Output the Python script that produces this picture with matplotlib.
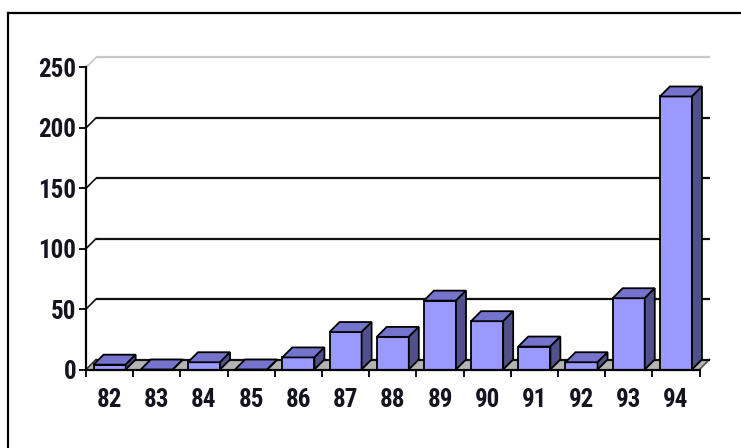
import matplotlib
matplotlib.use("Agg")
import matplotlib.pyplot as plt
from matplotlib.patches import Polygon
from matplotlib.lines import Line2D
from matplotlib import font_manager as fm
import numpy as np

# Data
years = ["82", "83", "84", "85", "86", "87", "88", "89", "90", "91", "92", "93", "94"]
counts = [4, 0, 6, 0, 10, 31, 27, 57, 40, 19, 6, 59, 226]
y_ticks = [0, 50, 100, 150, 200, 250]

FRONT = "#9999ff"
TOP = "#7474cc"
SIDE = "#50508a"
FLOOR = "#b4b4b4"
TXT = "#14141f"


def pick_narrow_font():
    """Return (FontProperties, name) for a condensed bold sans if one exists."""
    cands = []
    for f in fm.fontManager.ttflist:
        name = f.name
        narrow = ("Narrow" in name or "Condensed" in name
                  or f.stretch in ("condensed", "semi-condensed",
                                   "extra-condensed", "ultra-condensed")
                  or "Condensed" in f.fname or "Narrow" in f.fname)
        if not narrow:
            continue
        w = f.weight if isinstance(f.weight, int) else (700 if "bold" in str(f.weight) else 400)
        if w < 600:
            continue
        pref = 5
        for i, key in enumerate(["Liberation Sans Narrow", "Arial Narrow",
                                 "Roboto Condensed", "Roboto", "Noto Sans",
                                 "Open Sans", "DejaVu Sans"]):
            if key in name:
                pref = i
                break
        italic = f.style != "normal"
        cands.append((italic, pref, abs(w - 700), f.fname, name))
    if not cands:
        return None, None
    cands.sort()
    return fm.FontProperties(fname=cands[0][3]), cands[0][4]


fp, fp_name = pick_narrow_font()

W, H = 741, 448
fig = plt.figure(figsize=(W / 100, H / 100), dpi=100)
fig.patch.set_facecolor("white")

# front plane of the chart in pixels
left_px, right_px, top_px, bot_px = 86, 699.5, 67.5, 369.5
ax = fig.add_axes([left_px / W, 1 - bot_px / H,
                   (right_px - left_px) / W, (bot_px - top_px) / H])
ax.set_facecolor("none")
n = len(years)
x = np.arange(n)
ax.set_xlim(-0.5, n - 0.5)
ax.set_ylim(0, 250)

# depth of the pseudo-3D extrusion (10 px right and up) in data units
depth_px = 10
dx = depth_px / ((right_px - left_px) / n)
dy = depth_px / ((bot_px - top_px) / 250)

x0, x1 = -0.5, n - 0.5

# floor
ax.add_patch(Polygon([(x0, 0), (x1, 0), (x1 + dx, dy), (x0 + dx, dy)],
                     closed=True, facecolor=FLOOR, edgecolor="none",
                     clip_on=False, zorder=1))
ax.plot([x1, x1 + dx], [0, dy], color="#555555", lw=1.2, clip_on=False, zorder=1)

# back-wall gridlines with slanted connectors to the value axis
for v in y_ticks:
    col = "#c8c8c8" if v == 250 else "#111111"
    ax.plot([x0 + dx, x1 + dx], [v + dy, v + dy], color=col, lw=1.6,
            clip_on=False, zorder=1.5, solid_capstyle="butt")
    ax.plot([x0, x0 + dx], [v, v + dy], color=col if v else "#333333",
            lw=1.2, clip_on=False, zorder=1.5)

# bars: front face, top face, side face
bw = 0.68
for xi, v in zip(x, counts):
    l, r = xi - bw / 2, xi + bw / 2
    if v > 0:
        ax.bar(xi, v, width=bw, color=FRONT, edgecolor="black", linewidth=1.3,
               zorder=3)
    ax.add_patch(Polygon([(l, v), (r, v), (r + dx, v + dy), (l + dx, v + dy)],
                         closed=True, facecolor=TOP, edgecolor="black",
                         linewidth=1.3, clip_on=False, zorder=3))
    ax.add_patch(Polygon([(r, 0), (r + dx, dy), (r + dx, v + dy), (r, v)],
                         closed=True, facecolor=SIDE, edgecolor="black",
                         linewidth=1.3, clip_on=False, zorder=3))

# axes lines and ticks
for s in ("top", "right"):
    ax.spines[s].set_visible(False)
for s in ("left", "bottom"):
    ax.spines[s].set_linewidth(1.6)
    ax.spines[s].set_color("black")
    ax.spines[s].set_zorder(4)

if fp is not None:
    fp.set_size(18)
    font = dict(fontproperties=fp, color=TXT)
else:
    font = dict(family=["Liberation Sans", "DejaVu Sans"], weight="bold",
                size=15, color=TXT)

ax.set_yticks(y_ticks)
ax.set_yticklabels([str(v) for v in y_ticks], **font)
ax.tick_params(axis="y", direction="out", length=5, width=1.3, pad=2,
               colors="black")
for t in ax.get_yticklabels():
    t.set_color(TXT)

ax.set_xticks(x)
ax.set_xticklabels(years, **font)
ax.set_xticks(np.arange(n + 1) - 0.5, minor=True)
ax.tick_params(axis="x", which="major", length=0, pad=13)
ax.tick_params(axis="x", which="minor", direction="out", length=5, width=1.3,
               colors="black")

# outer frame (left and top edges)
fig.add_artist(Line2D([8 / W, 8 / W], [0, 1 - 13 / H], color="black", lw=1.6,
                      transform=fig.transFigure))
fig.add_artist(Line2D([8 / W, 1], [1 - 13 / H, 1 - 13 / H], color="black",
                      lw=1.6, transform=fig.transFigure))

fig.savefig("out.png", dpi=100, facecolor="white")
